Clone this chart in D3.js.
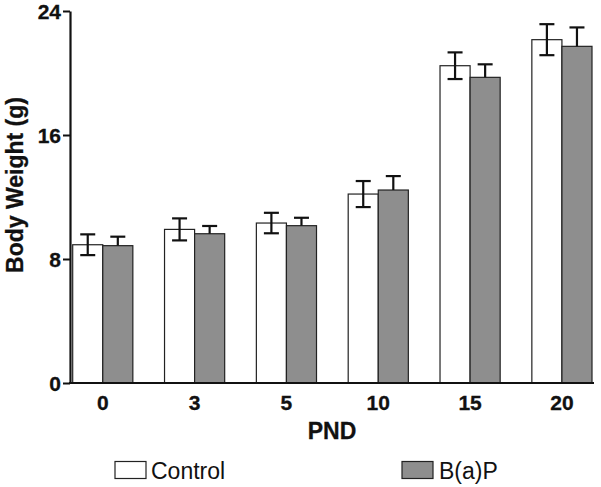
<!DOCTYPE html>
<html><head><meta charset="utf-8">
<script src="https://cdn.jsdelivr.net/npm/d3@7"></script>
<style>body{margin:0;background:#fff}svg{display:block;font-family:"Liberation Sans",Arial,sans-serif}</style>
</head><body><svg id="c" width="601" height="487"></svg>
<script>
const categories = ["0","3","5","10","15","20"];
const seriesNames = ["Control","B(a)P"];
const controlValues = [8.92, 9.91, 10.32, 12.19, 20.47, 22.15];
const controlSE = [0.67, 0.71, 0.66, 0.84, 0.86, 1.0];
const bapValues = [8.86, 9.63, 10.15, 12.45, 19.72, 21.72];
const bapSE = [0.58, 0.5, 0.51, 0.9, 0.84, 1.22];
const yTicks = [0, 8, 16, 24];

const svg = d3.select("#c");
const y = d3.scaleLinear().domain([0, 24]).range([383, 11]);
const x0 = d3.scaleBand().domain(categories).range([72.7, 592]).paddingInner(0.345).paddingOuter(0);
const x1 = d3.scaleBand().domain(seriesNames).range([0, x0.bandwidth()]);
const fills = {"Control": "#ffffff", "B(a)P": "#8e8e8e"};

const rows = [];
categories.forEach((c, i) => {
  rows.push({cat: c, s: "Control", v: controlValues[i], e: controlSE[i], both: true});
  rows.push({cat: c, s: "B(a)P", v: bapValues[i], e: bapSE[i], both: false});
});

// bars
svg.append("g").selectAll("rect").data(rows).join("rect")
  .attr("x", d => x0(d.cat) + x1(d.s))
  .attr("y", d => y(d.v))
  .attr("width", x1.bandwidth())
  .attr("height", d => y(0) - y(d.v))
  .attr("fill", d => fills[d.s])
  .attr("stroke", "#222").attr("stroke-width", 1.2);

// error bars
const eg = svg.append("g").attr("stroke", "#111").attr("stroke-width", 2.2).attr("fill", "none");
rows.forEach(d => {
  const cx = x0(d.cat) + x1(d.s) + x1.bandwidth() / 2;
  const top = y(d.v + d.e), bot = d.both ? y(d.v - d.e) : y(d.v);
  eg.append("line").attr("x1", cx).attr("x2", cx).attr("y1", top).attr("y2", bot);
  eg.append("line").attr("x1", cx - 7.5).attr("x2", cx + 7.5).attr("y1", top).attr("y2", top);
  if (d.both) eg.append("line").attr("x1", cx - 7.5).attr("x2", cx + 7.5).attr("y1", bot).attr("y2", bot);
});

const tickFont = g => g.selectAll(".tick text")
  .style("font-size", "21px").style("font-weight", "bold").style("fill", "#111")
  .style("font-family", '"Liberation Sans",Arial,sans-serif')
  .attr("stroke", "#111").attr("stroke-width", 0.3);

// y axis
const yAxis = d3.axisLeft(y).tickValues(yTicks).tickSize(7).tickSizeOuter(0).tickPadding(2);
const gy = svg.append("g").attr("transform", "translate(70,0)").call(yAxis);
gy.select(".domain").attr("stroke", "#111").attr("stroke-width", 2.2);
gy.selectAll(".tick line").attr("stroke", "#111").attr("stroke-width", 2);
gy.call(tickFont);
gy.selectAll(".tick text").attr("dy", "0.36em");

// x axis
const xAxis = d3.axisBottom(x0).tickSize(0).tickPadding(12);
const gx = svg.append("g").attr("transform", "translate(0,383)").call(xAxis);
gx.select(".domain").remove();
gx.append("line").attr("x1", 69).attr("x2", 594).attr("y1", 0).attr("y2", 0).attr("stroke", "#111").attr("stroke-width", 2.2);
gx.call(tickFont);

// axis titles
svg.append("text").attr("x", 332).attr("y", 439).attr("text-anchor", "middle")
  .attr("font-size", 23).attr("font-weight", "bold").attr("fill", "#111")
  .attr("stroke", "#111").attr("stroke-width", 0.3).text("PND");
svg.append("text").attr("transform", "translate(23,185) rotate(-90)").attr("text-anchor", "middle")
  .attr("font-size", 23).attr("font-weight", "bold").attr("fill", "#111")
  .attr("stroke", "#111").attr("stroke-width", 0.3).text("Body Weight (g)");

// legend
const legendPos = [{x: 115, tx: 151}, {x: 402, tx: 439}];
seriesNames.forEach((s, i) => {
  svg.append("rect").attr("x", legendPos[i].x).attr("y", 461.5).attr("width", 31).attr("height", 17)
    .attr("fill", fills[s]).attr("stroke", "#222").attr("stroke-width", 1.2);
  svg.append("text").attr("x", legendPos[i].tx).attr("y", 478.5).attr("font-size", 23).attr("fill", "#111").text(s);
});
</script></body></html>
